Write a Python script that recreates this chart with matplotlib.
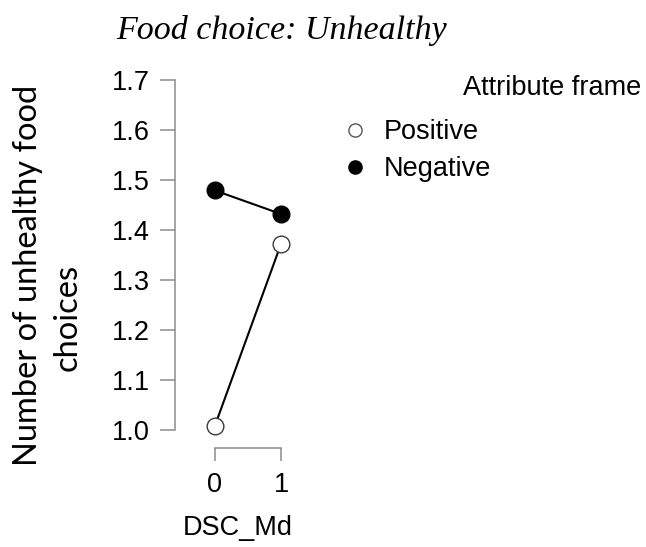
import matplotlib
matplotlib.use("Agg")
import matplotlib.pyplot as plt
from matplotlib.lines import Line2D

# Means of unhealthy food choices by DSC_Md level and attribute frame
dsc_levels = [0, 1]
positive = [1.009, 1.372]
negative = [1.479, 1.432]
yticks = [1.0, 1.1, 1.2, 1.3, 1.4, 1.5, 1.6, 1.7]
frames = ["Positive", "Negative"]

W, H = 646, 547
fig = plt.figure(figsize=(W / 100, H / 100), dpi=100)

# axes box in pixel terms: spine at x=175, y range 1.0..1.7 spans 430..80
ax = fig.add_axes([175 / W, (H - 448) / H, 126 / W, (448 - 80) / H])
ax.set_xlim(-0.606, 1.303)
ax.set_ylim(0.964, 1.7)

sans = "Liberation Sans"
gray = "#8c8c8c"

ax.plot(dsc_levels, negative, color="black", lw=1.5, marker="o", ms=12,
        mfc="black", mec="black", mew=1.0, clip_on=False, zorder=3)
ax.plot(dsc_levels, positive, color="black", lw=1.5, marker="o", ms=12,
        mfc="white", mec="#3a3a3a", mew=1.0, clip_on=False, zorder=3)

for s in ["top", "right"]:
    ax.spines[s].set_visible(False)
ax.spines["left"].set_bounds(1.0, 1.7)
ax.spines["bottom"].set_bounds(0, 1)
for s in ["left", "bottom"]:
    ax.spines[s].set_color(gray)
    ax.spines[s].set_linewidth(1.1)

ax.set_yticks(yticks)
ax.set_yticklabels([f"{v:.1f}" for v in yticks], fontfamily=sans, fontsize=19.5)
ax.set_xticks(dsc_levels)
ax.set_xticklabels([str(v) for v in dsc_levels], fontfamily=sans, fontsize=19.5)
ax.tick_params(axis="y", length=11, width=1.1, color=gray, pad=7)
ax.tick_params(axis="x", length=9.5, width=1.1, color=gray, pad=8)

ax.set_xlabel("DSC_Md", fontfamily=sans, fontsize=19.5, labelpad=12)

fig.text(282 / W, 1 - 31 / H, "Food choice: Unhealthy", ha="center", va="center",
         fontfamily="Liberation Serif", fontstyle="italic", fontsize=24.5)

# y-axis label as two separate lines
fig.text(28 / W, 1 - 275 / H, "Number of unhealthy food", rotation=90,
         ha="center", va="center", fontfamily="Lato", fontsize=23.5)
fig.text(68 / W, 1 - 317 / H, "choices", rotation=90,
         ha="center", va="center", fontfamily="Lato", fontsize=23.5)

# legend
fig.text(463 / W, 1 - 88 / H, "Attribute frame", ha="left", va="center",
         fontfamily=sans, fontsize=19.5)
handles = [
    Line2D([], [], ls="none", marker="o", ms=9.5, mfc="white", mec="#555555", mew=1.0),
    Line2D([], [], ls="none", marker="o", ms=9.5, mfc="black", mec="black", mew=1.0),
]
fig.legend(handles, frames, loc="upper left", bbox_to_anchor=(347 / W, 1 - 119 / H),
           frameon=False, borderpad=0, borderaxespad=0, handlelength=0.6,
           handletextpad=0.74, labelspacing=0.42, prop={"family": sans, "size": 19.5})

fig.savefig("out.png", dpi=100)
